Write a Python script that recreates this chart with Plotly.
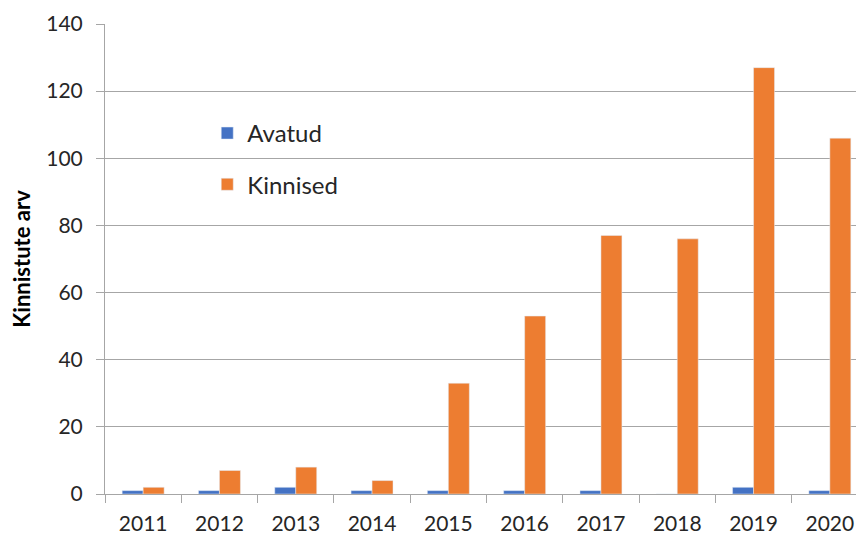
import plotly.graph_objects as go

years = ["2011", "2012", "2013", "2014", "2015", "2016", "2017", "2018", "2019", "2020"]
avatud = [1, 1, 2, 1, 1, 1, 1, 0, 2, 1]
kinnised = [2, 7, 8, 4, 33, 53, 77, 76, 127, 106]
y_ticks = [0, 20, 40, 60, 80, 100, 120, 140]

font_family = "Lato, 'Open Sans', sans-serif"
grid_col = "#a6a6a6"

fig = go.Figure()
fig.add_trace(go.Bar(x=years, y=avatud, name="Avatud", marker=dict(color="#4472C4"),
                     legendgroup="a"))
fig.add_trace(go.Bar(x=years, y=kinnised, name="Kinnised", marker=dict(color="#ED7D31"),
                     legendgroup="k"))

# page body has an 8px margin, so offsets are compensated here
fig.update_layout(
    width=864, height=539,
    margin=dict(l=97, r=4, t=16, b=53),
    paper_bgcolor="white", plot_bgcolor="white",
    barmode="group", bargap=0.45, bargroupgap=0,
    font=dict(family=font_family, size=21, color="#262626"),
    legend=dict(x=0.134, y=0.815, xanchor="left", yanchor="top",
                font=dict(size=24, color="#262626"),
                tracegroupgap=17, bgcolor="rgba(0,0,0,0)"),
    showlegend=True,
)
fig.update_xaxes(
    automargin=False,
    showline=True, linecolor=grid_col, linewidth=1,
    ticks="outside", tickson="boundaries", ticklen=8, tickcolor=grid_col,
    ticklabelstandoff=11,
    showgrid=False, tickfont=dict(size=21),
)
fig.update_yaxes(
    automargin=False,
    range=[0, 140], tickvals=y_ticks,
    showline=True, linecolor=grid_col, linewidth=1,
    ticks="outside", ticklen=8, tickcolor=grid_col,
    ticklabelstandoff=9,
    showgrid=True, gridcolor=grid_col, gridwidth=1,
    zeroline=False, tickfont=dict(size=21),
    title=dict(text="<b>Kinnistute arv</b>", font=dict(size=22, color="black"), standoff=13),
)

fig.write_html("out.html")
